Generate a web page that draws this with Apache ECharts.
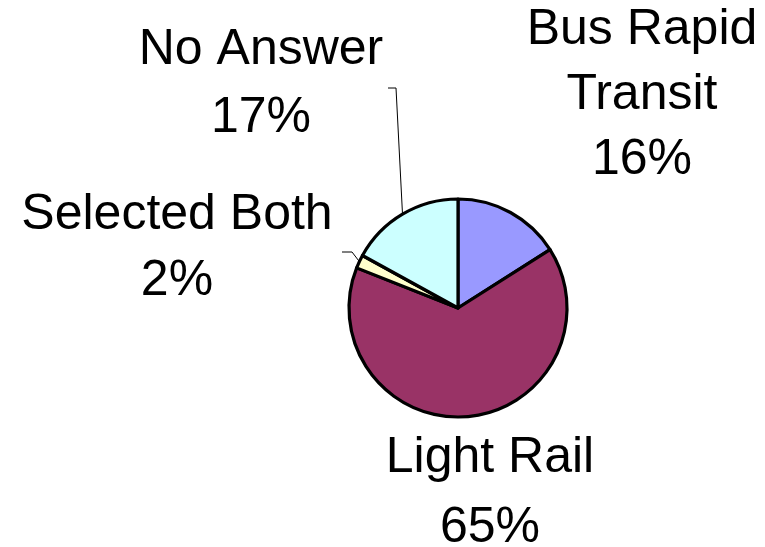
<!DOCTYPE html>
<html>
<head>
<meta charset="utf-8">
<script src="https://cdn.jsdelivr.net/npm/echarts@6/dist/echarts.min.js"></script>
<style>
html,body{margin:0;padding:0;background:#fff;}
#chart{width:765px;height:547px;}
</style>
</head>
<body>
<div id="chart"></div>
<script>
// Data
const categories = ['Bus Rapid Transit', 'Light Rail', 'Selected Both', 'No Answer'];
const values = [16, 65, 2, 17];
const sliceColors = ['#9999FF', '#993366', '#FFFFCC', '#CCFFFF'];

// Label layout (display only)
const labelCenterX = [642, 490, 177, 261];
const labelCenterY = [95, 493, 248, 84];
const labelLineHeights = [65, 70, 66, 68];
const showLeader = [false, false, true, true];

const chart = echarts.init(document.getElementById('chart'), null, {renderer: 'canvas'});

const pieData = categories.map((name, i) => ({
  name: name,
  value: values[i],
  itemStyle: {color: sliceColors[i]},
  label: {lineHeight: labelLineHeights[i]},
  labelLine: {show: showLeader[i]}
}));

chart.setOption({
  animation: false,
  backgroundColor: '#ffffff',
  series: [{
    type: 'pie',
    center: [458, 308],
    radius: 109,
    startAngle: 90,
    clockwise: true,
    avoidLabelOverlap: false,
    data: pieData,
    itemStyle: {borderColor: '#000000', borderWidth: 3.2},
    label: {
      show: true,
      position: 'outside',
      fontFamily: '"Liberation Sans", Arial, sans-serif',
      fontSize: 50,
      color: '#000000',
      align: 'center',
      formatter: function (p) {
        const name = p.name === 'Bus Rapid Transit' ? 'Bus Rapid\nTransit' : p.name;
        return name + '\n' + Math.round(p.percent) + '%';
      }
    },
    labelLine: {
      lineStyle: {color: '#000000', width: 1}
    },
    emphasis: {disabled: true},
    labelLayout: function (params) {
      const i = params.dataIndex;
      const res = {
        x: labelCenterX[i],
        y: labelCenterY[i],
        align: 'center',
        verticalAlign: 'middle'
      };
      if (showLeader[i] && params.labelLinePoints) {
        const p0 = params.labelLinePoints[0];
        if (i === 3) {
          res.labelLinePoints = [[p0[0], p0[1]], [396, 88], [388, 88]];
        } else if (i === 2) {
          res.labelLinePoints = [[p0[0], p0[1]], [352, 252], [342, 252]];
        }
      }
      return res;
    }
  }]
});
</script>
</body>
</html>
